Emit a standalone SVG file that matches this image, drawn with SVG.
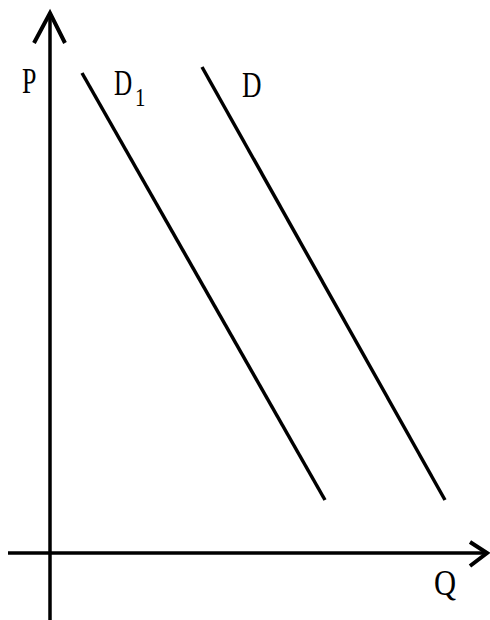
<svg xmlns="http://www.w3.org/2000/svg" width="490" height="620" viewBox="0 0 490 620">
<style>
.ln{stroke:#000;stroke-width:3.5;fill:none;stroke-linecap:butt}
.ar{stroke:#000;stroke-width:4;fill:none;stroke-linejoin:miter}
.t{font-family:"Liberation Serif","Times New Roman",serif;font-size:36px;fill:#000}
.s{font-family:"Liberation Serif","Times New Roman",serif;font-size:26px;fill:#000}
</style>
<rect width="490" height="620" fill="#fff"/>
<g id="axes">
<line class="ln" x1="50" y1="14" x2="50" y2="620"/>
<polyline class="ar" points="34,43 50,13 65,43"/>
<line class="ln" x1="8" y1="553" x2="486" y2="553"/>
<polyline class="ar" points="470,542 487,553 470,566"/>
</g>
<g id="connectors">
<line class="ln" x1="82" y1="73" x2="325" y2="500"/>
<line class="ln" x1="202" y1="67" x2="445" y2="500"/>
</g>
<g id="labels">
<text class="t" transform="translate(22,93) scale(0.72,1)">P</text>
<text class="t" transform="translate(114,95) scale(0.7,1)">D</text>
<text class="s" transform="translate(135,106) scale(0.8,1)">1</text>
<text class="t" transform="translate(242,97) scale(0.75,1)">D</text>
<text class="t" transform="translate(434,595) scale(0.85,1)">Q</text>
</g>
</svg>
